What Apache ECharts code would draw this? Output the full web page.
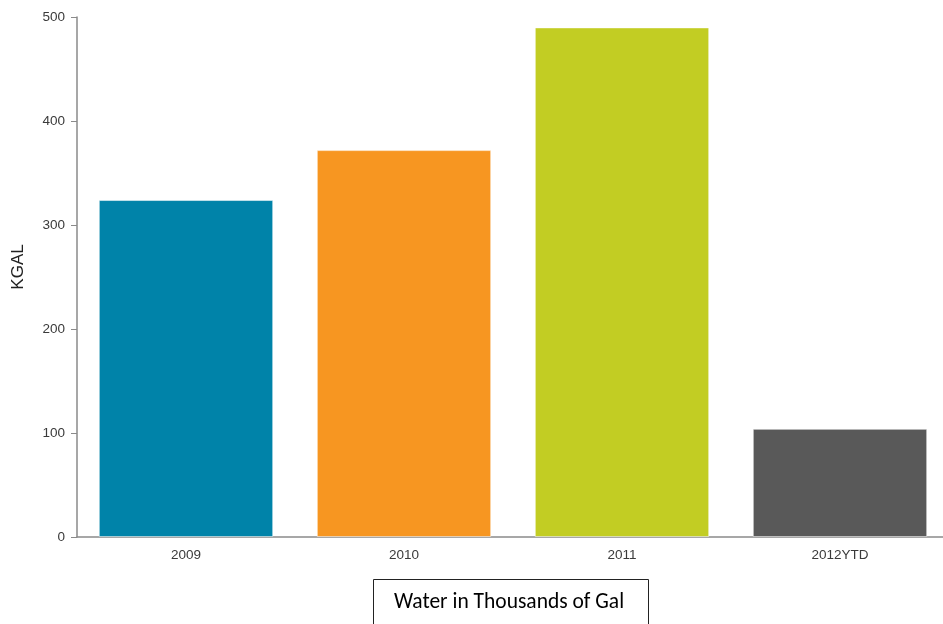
<!DOCTYPE html>
<html><head><meta charset="utf-8">
<script src="https://cdn.jsdelivr.net/npm/echarts@6/dist/echarts.min.js"></script>
<style>html,body{margin:0;padding:0;background:#fff}#c{width:943px;height:624px}</style>
</head><body><div id="c"></div>
<script>
const categories = ['2009', '2010', '2011', '2012YTD'];
const values = [324, 372, 490, 104];
const colors = ['#0083A9', '#F79621', '#C2CD23', '#595959'];
const yTicks = [0, 100, 200, 300, 400, 500];
const yTitle = 'KGAL';
const caption = 'Water in Thousands of Gal';

const chart = echarts.init(document.getElementById('c'), null, {renderer: 'canvas'});
chart.setOption({
  animation: false,
  grid: {left: 77, width: 872, top: 17, bottom: 87, containLabel: false, outerBoundsMode: 'none'},
  xAxis: {
    type: 'category', data: categories,
    axisLine: {lineStyle: {color: '#8a8a8a', width: 1.5}},
    axisTick: {show: false},
    axisLabel: {color: '#3a3a3a', fontFamily: 'Liberation Sans, Arial', fontSize: 13.5, margin: 11}
  },
  yAxis: {
    type: 'value', min: yTicks[0], max: yTicks[yTicks.length - 1], interval: 100,
    axisLine: {show: true, lineStyle: {color: '#8a8a8a', width: 1.5}},
    axisTick: {show: true, length: 6, lineStyle: {color: '#8a8a8a'}},
    axisLabel: {color: '#3a3a3a', fontFamily: 'Liberation Sans, Arial', fontSize: 13.5, margin: 12},
    splitLine: {show: false}
  },
  series: [{
    type: 'bar',
    barCategoryGap: '20%',
    data: values.map((v, i) => ({value: v, itemStyle: {color: colors[i], borderColor: 'rgba(255,255,255,0.5)', borderWidth: 1}}))
  }],
  graphic: [
    {type: 'text', x: 18.5, y: 267, rotation: Math.PI / 2,
     style: {text: yTitle, fill: '#222', font: '17px "Liberation Sans", Arial, sans-serif', textAlign: 'center', textVerticalAlign: 'middle'}},
    {type: 'rect', shape: {x: 373.5, y: 579.5, width: 275, height: 60}, style: {fill: '#fff', stroke: '#222', lineWidth: 1}},
    {type: 'text', x: 509, y: 603, style: {text: caption, fill: '#000', font: '21.5px Carlito, "Open Sans", "Liberation Sans", sans-serif', textAlign: 'center', textVerticalAlign: 'middle'}}
  ]
});
</script></body></html>
